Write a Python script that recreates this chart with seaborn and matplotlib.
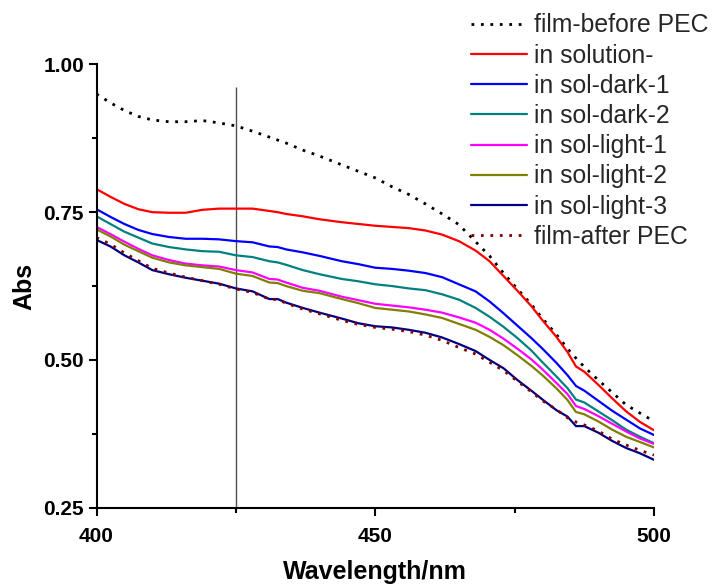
import matplotlib
matplotlib.use("Agg")
import matplotlib.pyplot as plt
import seaborn as sns
import pandas as pd
from matplotlib.ticker import MultipleLocator

# ---------------- data ----------------
wavelength = [400, 402.5, 405, 407.5, 410, 413, 416, 419, 422, 425, 428, 431, 432.5, 434,
              437, 440, 444, 447, 450, 453, 456, 459, 462, 465, 468, 470.5, 473, 475.5,
              478, 480, 482.5, 484.5, 486, 487.5, 490, 492.5, 495, 497.5, 500]

film_before = [0.950, 0.935, 0.922, 0.912, 0.906, 0.903, 0.903, 0.905, 0.901, 0.896, 0.887,
               0.877, 0.872, 0.867, 0.855, 0.845, 0.830, 0.819, 0.808, 0.793, 0.780, 0.764,
               0.747, 0.729, 0.700, 0.676, 0.647, 0.620, 0.594, 0.570, 0.543, 0.519, 0.503,
               0.488, 0.466, 0.445, 0.424, 0.410, 0.396]
in_solution = [0.789, 0.776, 0.764, 0.755, 0.750, 0.749, 0.749, 0.754, 0.756, 0.756, 0.756,
               0.752, 0.750, 0.747, 0.743, 0.738, 0.733, 0.730, 0.727, 0.725, 0.723, 0.719,
               0.712, 0.701, 0.685, 0.667, 0.642, 0.617, 0.591, 0.567, 0.539, 0.513, 0.489,
               0.480, 0.458, 0.435, 0.413, 0.395, 0.381]
sol_dark_1 = [0.755, 0.742, 0.730, 0.720, 0.713, 0.708, 0.705, 0.705, 0.704, 0.701, 0.699,
              0.692, 0.691, 0.687, 0.682, 0.676, 0.667, 0.662, 0.656, 0.654, 0.651, 0.647,
              0.640, 0.628, 0.616, 0.599, 0.579, 0.558, 0.537, 0.519, 0.495, 0.474, 0.456,
              0.448, 0.431, 0.414, 0.399, 0.384, 0.373]
sol_dark_2 = [0.743, 0.730, 0.717, 0.707, 0.697, 0.691, 0.687, 0.684, 0.683, 0.677, 0.674,
              0.667, 0.665, 0.661, 0.652, 0.645, 0.637, 0.633, 0.628, 0.625, 0.621, 0.618,
              0.611, 0.602, 0.588, 0.573, 0.556, 0.537, 0.516, 0.496, 0.472, 0.452, 0.433,
              0.428, 0.413, 0.398, 0.382, 0.370, 0.359]
sol_light_1 = [0.725, 0.713, 0.700, 0.688, 0.677, 0.669, 0.663, 0.660, 0.658, 0.652, 0.648,
               0.637, 0.636, 0.631, 0.622, 0.617, 0.607, 0.601, 0.595, 0.592, 0.589, 0.585,
               0.580, 0.572, 0.563, 0.551, 0.536, 0.519, 0.501, 0.484, 0.461, 0.442, 0.422,
               0.417, 0.405, 0.392, 0.379, 0.367, 0.358]
sol_light_2 = [0.721, 0.709, 0.695, 0.684, 0.673, 0.665, 0.660, 0.657, 0.654, 0.646, 0.642,
               0.631, 0.630, 0.625, 0.617, 0.613, 0.603, 0.596, 0.588, 0.585, 0.582, 0.577,
               0.571, 0.561, 0.551, 0.539, 0.525, 0.508, 0.490, 0.474, 0.452, 0.432, 0.412,
               0.408, 0.396, 0.382, 0.370, 0.361, 0.352]
sol_light_3 = [0.703, 0.692, 0.677, 0.665, 0.652, 0.645, 0.639, 0.634, 0.629, 0.621, 0.616,
               0.603, 0.603, 0.597, 0.588, 0.580, 0.570, 0.562, 0.557, 0.555, 0.551, 0.546,
               0.538, 0.527, 0.515, 0.500, 0.486, 0.466, 0.448, 0.433, 0.415, 0.404, 0.388,
               0.388, 0.377, 0.363, 0.351, 0.342, 0.331]
film_after = [0.707, 0.696, 0.681, 0.668, 0.655, 0.647, 0.640, 0.634, 0.628, 0.620, 0.614,
              0.603, 0.602, 0.596, 0.586, 0.578, 0.567, 0.560, 0.555, 0.552, 0.548, 0.542,
              0.533, 0.521, 0.510, 0.496, 0.482, 0.464, 0.446, 0.431, 0.416, 0.402, 0.395,
              0.390, 0.380, 0.366, 0.356, 0.347, 0.339]

labels = ["film-before PEC", "in solution-", "in sol-dark-1", "in sol-dark-2",
          "in sol-light-1", "in sol-light-2", "in sol-light-3", "film-after PEC"]
series = [film_before, in_solution, sol_dark_1, sol_dark_2,
          sol_light_1, sol_light_2, sol_light_3, film_after]
colors = ["#000000", "#FF0000", "#0000FF", "#008080",
          "#FF00FF", "#808000", "#000080", "#800000"]
styles = ["dot", "solid", "solid", "solid", "solid", "solid", "solid", "dot"]

marker_wavelength = 425

x_ticks = [400, 450, 500]
y_ticks = [0.25, 0.50, 0.75, 1.00]

# ---------------- plot ----------------
sns.set_theme(style="white")
plt.rcParams["font.family"] = ["Liberation Sans", "DejaVu Sans"]

fig = plt.figure(figsize=(7.12, 5.84), dpi=100)
ax = fig.add_axes([96.5 / 712, 1 - 507.7 / 584, (654 - 96.5) / 712, (507.7 - 64.4) / 584])

handles = []
for lab, vals, col, sty in zip(labels, series, colors, styles):
    df = pd.DataFrame({"Wavelength": wavelength, "Abs": vals})
    sns.lineplot(data=df, x="Wavelength", y="Abs", ax=ax, color=col,
                 estimator=None, sort=False, legend=False)
    ln = ax.lines[-1]
    ln.set_linewidth(1.6)
    if sty == "dot":
        ln.set_linestyle((0, (1, 2.4)))
        ln.set_linewidth(2.0)
    ln.set_label(lab)
    handles.append(ln)

# vertical marker line
ax.vlines(marker_wavelength, 0.25, 0.962, color="#505050", linewidth=1.0, zorder=1)

ax.set_xlim(400, 500)
ax.set_ylim(0.25, 1.00)
ax.set_xticks(x_ticks)
ax.set_yticks(y_ticks)
ax.set_xticklabels([str(v) for v in x_ticks])
ax.set_yticklabels([f"{v:.2f}" for v in y_ticks])
ax.xaxis.set_minor_locator(MultipleLocator(25))
ax.yaxis.set_minor_locator(MultipleLocator(0.125))

for s in ["top", "right"]:
    ax.spines[s].set_visible(False)
for s in ["left", "bottom"]:
    ax.spines[s].set_linewidth(1.5)
    ax.spines[s].set_color("black")

ax.tick_params(axis="both", which="major", direction="out", length=6, width=1.5,
               color="black", labelsize=15, bottom=True, left=True)
ax.tick_params(axis="x", which="major", pad=8)
ax.tick_params(axis="y", which="major", pad=3)
ax.tick_params(axis="both", which="minor", direction="out", length=3.5, width=1.5,
               color="black", bottom=True, left=True)
for t in ax.get_xticklabels() + ax.get_yticklabels():
    t.set_fontweight("bold")
    t.set_color("black")

ax.set_xlabel("Wavelength/nm", fontsize=18, fontweight="bold", color="black", labelpad=10)
ax.set_ylabel("Abs", fontsize=18, fontweight="bold", color="black", labelpad=5)
ax.grid(False)

fig.legend(handles=handles, labels=labels, loc="upper right",
           bbox_to_anchor=(0.995, 0.977), frameon=False, fontsize=17.8,
           handlelength=2.25, handletextpad=0.3, labelspacing=0.25,
           borderpad=0, borderaxespad=0)

fig.savefig("out.png", dpi=100, facecolor="white")
